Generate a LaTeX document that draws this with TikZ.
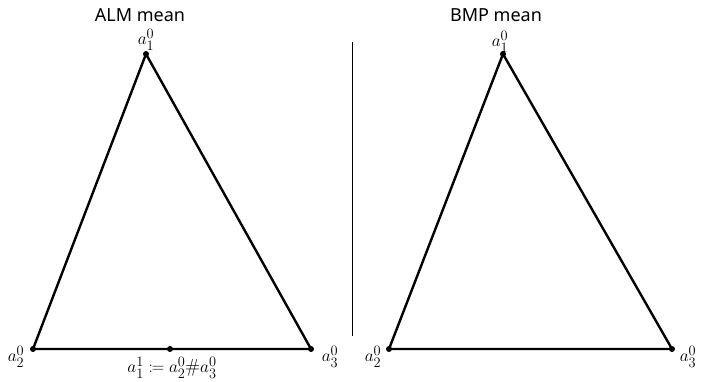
\documentclass[tikz,border=0pt]{standalone}
\usepackage{amsmath}
\usepackage{mathtools}
\usepackage{fontspec}
\newfontfamily\titlefont{Noto Sans}
\usepackage{tikz}

\tikzset{
  edge/.style={line width=2.4pt, line join=round},
  vdot/.style={circle, fill=black, inner sep=0pt, minimum size=6pt},
  title/.style={font=\titlefont\fontsize{18}{20}\selectfont},
  vlabel/.style={font=\fontsize{19}{21}\selectfont, inner sep=1pt}
}

\begin{document}
\begin{tikzpicture}[x=1pt,y=-1pt]
  \useasboundingbox (0,0) rectangle (701,381);
  % titles
  \node[title] (almtitle) at (140,15) {ALM mean};
  \node[title] (bmptitle) at (496,15) {BMP mean};
  % separator
  \coordinate (septop) at (352,42);
  \coordinate (sepbot) at (352,336);
  \draw[line width=0.9pt] (septop) -- (sepbot);
  % left triangle
  \coordinate (la1) at (146,54);
  \coordinate (la2) at (33,349);
  \coordinate (la3) at (311,349);
  \coordinate (lm) at (170,349);
  \draw[edge] (la1) -- (la2) -- (la3) -- cycle;
  \foreach \p in {la1,la2,la3,lm} \node[vdot] at (\p) {};
  \node[vlabel] (la1lab) at (146,40) {$a_1^0$};
  \node[vlabel] (la2lab) at (16,357) {$a_2^0$};
  \node[vlabel] (la3lab) at (330,357) {$a_3^0$};
  \node[vlabel] (lmlab) at (172,368) {$a_1^1 \coloneqq a_2^0 \# a_3^0$};
  % right triangle
  \coordinate (ra1) at (503,54);
  \coordinate (ra2) at (389,349);
  \coordinate (ra3) at (672,349);
  \draw[edge] (ra1) -- (ra2) -- (ra3) -- cycle;
  \foreach \p in {ra1,ra2,ra3} \node[vdot] at (\p) {};
  \node[vlabel] (ra1lab) at (500,42) {$a_1^0$};
  \node[vlabel] (ra2lab) at (373,357) {$a_2^0$};
  \node[vlabel] (ra3lab) at (688,357) {$a_3^0$};
\end{tikzpicture}
\end{document}
